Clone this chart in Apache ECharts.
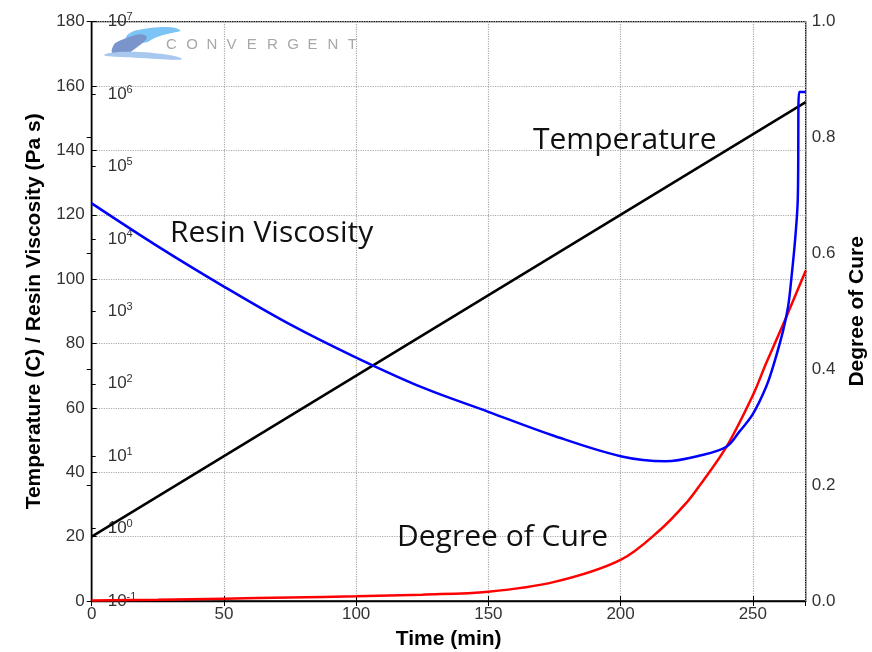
<!DOCTYPE html>
<html lang="en">
<head>
    <meta charset="UTF-8" />
    <title>Cure cycle</title>
    <script src="https://cdn.jsdelivr.net/npm/echarts@6/dist/echarts.min.js"></script>
    <style>
        html, body { margin: 0; padding: 0; background: #fff; }
        #main { width: 872px; height: 652px; }
    </style>
</head>
<body>
<div id="main"></div>
<script>
    // temperature ramp (C)
    var tempTime = [0, 270];
    var tempC = [20, 155];

    // resin viscosity (Pa s), read on the log scale
    var viscTime = [0, 25, 50, 75, 100, 125, 150, 175, 200, 217, 230, 240, 245, 250, 255, 258, 261.5, 263.4, 264.6, 266, 267, 267.5, 270];
    var viscPaS = [31000, 7900, 2200, 660, 230, 89, 41, 19, 10, 8.5, 10.2, 13.5, 22, 38, 90, 190, 550, 1200, 2900, 9800, 35000, 1070000, 1070000];

    // degree of cure (0..1)
    var cureTime = [0, 25, 50, 75, 100, 125, 150, 175, 200, 215, 225, 230, 240, 250, 255, 260, 264, 270];
    var cureDeg = [0.001, 0.002, 0.004, 0.006, 0.008, 0.011, 0.016, 0.033, 0.071, 0.123, 0.17, 0.2, 0.266, 0.355, 0.41, 0.462, 0.505, 0.57];

    function pairs(xs, ys) {
        return xs.map(function (x, i) { return [x, ys[i]]; });
    }

    var tickFont = { fontFamily: 'Liberation Sans', fontSize: 17, color: '#333' };
    var nameFont = { fontFamily: 'Liberation Sans', fontSize: 21, fontWeight: 'bold', color: '#000' };

    // logo
    var logo = [
        { type: 'polygon', z: 0, shape: { smooth: 0.6, points: [[126, 37], [150, 28], [180, 30], [160, 36], [140, 43]] }, style: { fill: '#7cc4f5' } },
        { type: 'polygon', z: 0, shape: { smooth: 0.6, points: [[112, 49], [124, 39], [146, 36], [136, 48], [118, 56]] }, style: { fill: '#7a95cc' } },
        { type: 'polygon', z: 0, shape: { smooth: 0.6, points: [[104, 55], [140, 52], [182, 59], [140, 58]] }, style: { fill: '#a8c8f0' } }
    ];
    'CONVERGENT'.split('').forEach(function (ch, i) {
        logo.push({
            type: 'text', z: 0, left: 166 + i * 20.2, top: 37,
            style: { text: ch, fontFamily: 'Liberation Sans', fontSize: 15, fill: '#a8a8a8' }
        });
    });

    var myChart = echarts.init(document.getElementById('main'), null, { renderer: 'canvas' });
    var option = {
        animation: false,
        grid: {
            left: 91.7, right: 66.3, top: 21.7, bottom: 51,
            outerBoundsMode: 'none', containLabel: false,
            show: true, borderColor: '#000', borderWidth: 1.3
        },
        xAxis: [
            {
                type: 'value', min: 0, max: 270, interval: 50,
                name: 'Time (min)', nameLocation: 'middle', nameGap: 28,
                nameTextStyle: nameFont,
                axisLine: { lineStyle: { color: '#000', width: 1.3 } },
                axisTick: { inside: true, length: 5, lineStyle: { color: '#000' } },
                axisLabel: Object.assign({ margin: 5, showMaxLabel: false }, tickFont),
                splitLine: { show: true, lineStyle: { color: '#aaa', type: 'dotted', width: 1.2 } }
            },
            {
                type: 'value', min: 0, max: 270, interval: 50, position: 'top',
                axisLine: { show: false },
                axisTick: { inside: true, length: 5, lineStyle: { color: '#000' } },
                axisLabel: { show: false },
                splitLine: { show: false }
            }
        ],
        yAxis: [
            {
                type: 'value', min: 0, max: 180, interval: 20, position: 'left',
                name: 'Temperature (C) / Resin Viscosity (Pa s)', nameLocation: 'middle', nameGap: 47,
                nameTextStyle: nameFont,
                axisLine: { show: true, lineStyle: { color: '#000', width: 1.3 } },
                axisTick: { show: true, inside: true, length: 5, lineStyle: { color: '#000' } },
                axisLabel: Object.assign({ margin: 7 }, tickFont),
                splitLine: { show: true, lineStyle: { color: '#aaa', type: 'dotted', width: 1.2 } }
            },
            {
                type: 'value', min: 0, max: 1, interval: 0.2, position: 'right',
                name: 'Degree of Cure', nameLocation: 'middle', nameGap: 40, nameRotate: 90,
                nameTextStyle: nameFont,
                axisLine: { show: true, lineStyle: { color: '#000', width: 1.3 } },
                axisTick: { show: true, inside: true, length: 5, lineStyle: { color: '#000' } },
                axisLabel: Object.assign({ margin: 6, formatter: function (v) { return v.toFixed(1); } }, tickFont),
                splitLine: { show: false }
            },
            {
                type: 'log', logBase: 10, min: 0.1, max: 10000000, splitNumber: 8, position: 'left',
                axisLine: { show: false },
                axisTick: { show: true, inside: true, length: 4, lineStyle: { color: '#000' } },
                minorTick: { show: false },
                splitLine: { show: false },
                axisLabel: {
                    inside: true, margin: 16,
                    formatter: function (v) {
                        var e = Math.round(Math.log10(v));
                        return '{b|10}{s|' + e + '}';
                    },
                    rich: {
                        b: { fontFamily: 'Liberation Sans', fontSize: 17, color: '#333', lineHeight: 20 },
                        s: { fontFamily: 'Liberation Sans', fontSize: 11, color: '#333', verticalAlign: 'top', lineHeight: 12 }
                    }
                }
            }
        ],
        graphic: logo.concat([
            {
                type: 'text', z: 10, left: 533, top: 125,
                style: { text: 'Temperature', fontFamily: 'Open Sans', fontSize: 30, fill: '#111' }
            },
            {
                type: 'text', z: 10, left: 170, top: 218,
                style: { text: 'Resin Viscosity', fontFamily: 'Open Sans', fontSize: 30, fill: '#111' }
            },
            {
                type: 'text', z: 10, left: 397, top: 522,
                style: { text: 'Degree of Cure', fontFamily: 'Open Sans', fontSize: 30, fill: '#111' }
            }
        ]),
        series: [
            {
                name: 'Temperature', type: 'line', xAxisIndex: 0, yAxisIndex: 0,
                data: pairs(tempTime, tempC), showSymbol: false,
                lineStyle: { color: '#000', width: 2.5 }, z: 3
            },
            {
                name: 'Resin Viscosity', type: 'line', xAxisIndex: 0, yAxisIndex: 2,
                data: pairs(viscTime, viscPaS), showSymbol: false,
                smooth: 0.35,
                lineStyle: { color: '#0000ff', width: 2.5 }, z: 4
            },
            {
                name: 'Degree of Cure', type: 'line', xAxisIndex: 0, yAxisIndex: 1,
                data: pairs(cureTime, cureDeg), showSymbol: false,
                smooth: 0.35,
                lineStyle: { color: '#ff0000', width: 2.5 }, z: 3
            }
        ]
    };
    myChart.setOption(option);
</script>
</body>
</html>
